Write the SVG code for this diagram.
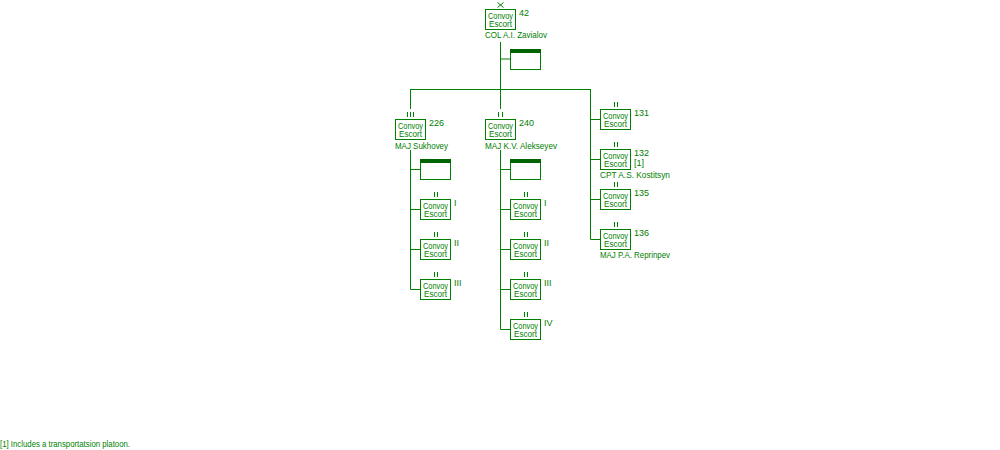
<svg xmlns="http://www.w3.org/2000/svg" width="1000" height="450" viewBox="0 0 1000 450">
<style>
.ln{stroke:#008000;stroke-width:1;fill:none}
.bx{stroke:#008000;stroke-width:1;fill:#ffffff}
.band{fill:#006400}
text{font-family:"Liberation Sans Narrow","Liberation Sans",Arial,sans-serif;font-size:9px;fill:#008000}
.c{text-anchor:middle}
</style>
<defs>
<g id="unit">
<rect class="bx" x="0.5" y="0.5" width="30" height="20"/>
<text class="c" x="15.5" y="10" textLength="25" lengthAdjust="spacingAndGlyphs">Convoy</text>
<text class="c" x="15.5" y="18" textLength="23" lengthAdjust="spacingAndGlyphs">Escort</text>
</g>
<g id="hq">
<rect class="bx" x="0.5" y="0.5" width="30" height="20"/>
<rect class="band" x="0" y="0" width="31" height="4"/>
</g>
</defs>
<rect width="1000" height="450" fill="#ffffff"/>
<g id="connectors">
<path class="ln" d="M500.5,42V109 M500.5,59H510.5 M410.5,89.5H590.5 M410.5,89V109 M590.5,89V239.5"/>
<path class="ln" d="M590.5,119.5H600.5 M590.5,159.5H600.5 M590.5,199.5H600.5 M590.5,239.5H600.5"/>
<path class="ln" d="M410.5,150V289.5 M410.5,169.5H420.5 M410.5,209.5H420.5 M410.5,249.5H420.5 M410.5,289.5H420.5"/>
<path class="ln" d="M500.5,150V329.5 M500.5,169.5H510.5 M500.5,209.5H510.5 M500.5,249.5H510.5 M500.5,289.5H510.5 M500.5,329.5H510.5"/>
</g>
<g id="n42">
<path class="ln" d="M497.5,2.5L503.5,7.5 M503.5,2.5L497.5,7.5"/>
<use href="#unit" x="485" y="9"/>
<text x="519" y="16">42</text>
<text x="485" y="38" textLength="62" lengthAdjust="spacingAndGlyphs">COL  A.I. Zavialov</text>
</g>
<g id="n42hq"><use href="#hq" x="510" y="49"/></g>
<g id="n226">
<path class="ln" d="M407.5,112V117 M410.5,112V117 M413.5,112V117"/>
<use href="#unit" x="395" y="119"/>
<text x="429" y="126">226</text>
<text x="395" y="149" textLength="53" lengthAdjust="spacingAndGlyphs">MAJ  Sukhovey</text>
</g>
<g id="n226hq"><use href="#hq" x="420" y="159"/></g>
<g id="n226-1"><path class="ln" d="M434.5,192V197 M437.5,192V197"/><use href="#unit" x="420" y="199"/><text x="454" y="206">I</text></g>
<g id="n226-2"><path class="ln" d="M434.5,232V237 M437.5,232V237"/><use href="#unit" x="420" y="239"/><text x="454" y="246">II</text></g>
<g id="n226-3"><path class="ln" d="M434.5,272V277 M437.5,272V277"/><use href="#unit" x="420" y="279"/><text x="454" y="286">III</text></g>
<g id="n240">
<path class="ln" d="M498.5,112V117 M502.5,112V117"/>
<use href="#unit" x="485" y="119"/>
<text x="519" y="126">240</text>
<text x="485" y="149" textLength="72" lengthAdjust="spacingAndGlyphs">MAJ  K.V. Alekseyev</text>
</g>
<g id="n240hq"><use href="#hq" x="510" y="159"/></g>
<g id="n240-1"><path class="ln" d="M524.5,192V197 M527.5,192V197"/><use href="#unit" x="510" y="199"/><text x="544" y="206">I</text></g>
<g id="n240-2"><path class="ln" d="M524.5,232V237 M527.5,232V237"/><use href="#unit" x="510" y="239"/><text x="544" y="246">II</text></g>
<g id="n240-3"><path class="ln" d="M524.5,272V277 M527.5,272V277"/><use href="#unit" x="510" y="279"/><text x="544" y="286">III</text></g>
<g id="n240-4"><path class="ln" d="M524.5,312V317 M527.5,312V317"/><use href="#unit" x="510" y="319"/><text x="544" y="326">IV</text></g>
<g id="n131"><path class="ln" d="M614.5,102V107 M617.5,102V107"/><use href="#unit" x="600" y="109"/><text x="634" y="116">131</text></g>
<g id="n132"><path class="ln" d="M614.5,142V147 M617.5,142V147"/><use href="#unit" x="600" y="149"/><text x="634" y="156">132</text><text x="634" y="166">[1]</text><text x="600" y="178" textLength="70" lengthAdjust="spacingAndGlyphs">CPT  A.S. Kostitsyn</text></g>
<g id="n135"><path class="ln" d="M614.5,182V187 M617.5,182V187"/><use href="#unit" x="600" y="189"/><text x="634" y="196">135</text></g>
<g id="n136"><path class="ln" d="M614.5,222V227 M617.5,222V227"/><use href="#unit" x="600" y="229"/><text x="634" y="236">136</text><text x="600" y="258" textLength="70" lengthAdjust="spacingAndGlyphs">MAJ  P.A. Reprinpev</text></g>
<text x="0" y="447" textLength="130" lengthAdjust="spacingAndGlyphs">[1] Includes a transportatsion platoon.</text>
</svg>
